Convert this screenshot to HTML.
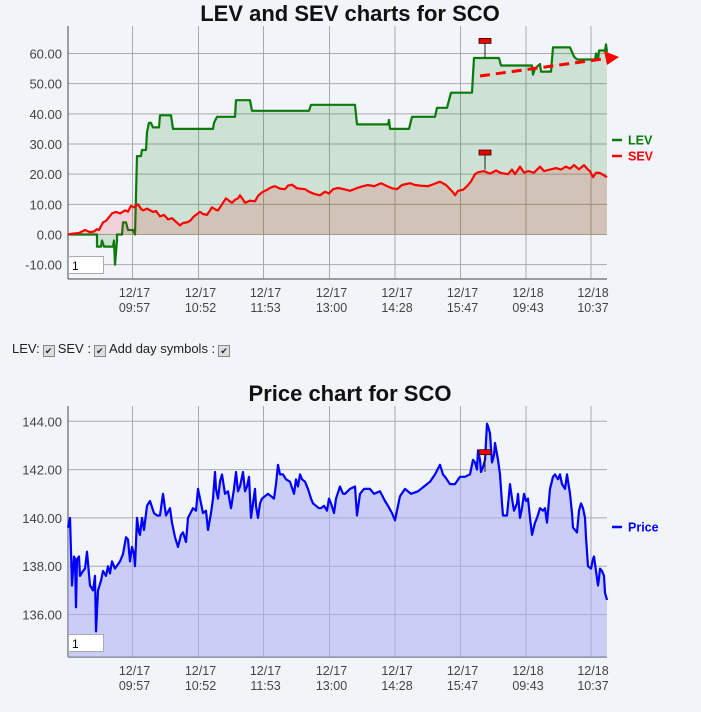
<!DOCTYPE html>
<html><head><meta charset="utf-8"><style>
body{margin:0;background:#f1f4f9;font-family:"Liberation Sans",sans-serif;}
#wrap{position:relative;width:701px;height:712px;overflow:hidden;}
svg{position:absolute;left:0;top:0;}
.ctl{position:absolute;left:12px;top:341px;font-size:13px;color:#222;}
.cb{display:inline-block;width:10px;height:10px;border:1px solid #888;background:#ddd;font-size:9px;line-height:10px;text-align:center;vertical-align:-1px;margin:0 3px;}
.inp{position:absolute;left:68px;width:36px;height:18px;background:#fff;border:1px solid #aaa;font-size:12px;line-height:18px;padding-left:3px;box-sizing:border-box;}
</style></head><body>
<div id="wrap">
<svg id="svg" width="701" height="712"></svg>
<div class="ctl">LEV:<span class="cb">✔</span>SEV :<span class="cb">✔</span>Add day symbols :<span class="cb">✔</span></div>
<div class="inp" style="top:256px">1</div>
<div class="inp" style="top:634px">1</div>
</div>
<script>
const xTickPos=[64.5,130.5,195.5,261.5,327,392.5,458,523];
const xTickDates=["12/17","12/17","12/17","12/17","12/17","12/17","12/18","12/18"];
const xTickTimes=["09:57","10:52","11:53","13:00","14:28","15:47","09:43","10:37"];
const topYTicks=[-10,0,10,20,30,40,50,60];
const botYTicks=[136,138,140,142,144];
const levPoints=[[0,0],[29,0],[29,-4],[33,-4],[34,-2],[36,-4],[45,-4],[46,-2],[47,-10],[49,-2],[49,0],[54,0],[55,4],[58,4],[60,1.5],[65,1.5],[67,0],[69,26],[73,26],[74,28],[78,28],[79,34],[81,37],[83,37],[85,35.5],[91,35.5],[92,39.5],[103,39.5],[105,35],[145,35],[146,37],[149,39],[167,39],[168,44.5],[182,44.5],[184,41],[241,41],[243,43],[287,43],[289,36.5],[320,36.5],[321,38],[322,35],[341,35],[344,39],[367,39],[369,42],[379,42],[381,44.5],[383,47],[404,47],[406,58.5],[431,58.5],[433,56],[464,56],[465,53],[467,55],[472,56.5],[473,54],[483,54],[485,62],[502,62],[506,59],[509,58],[527,58],[528,60],[530,58],[531,61],[537,61],[538,63],[539,60.5]];
const sevPoints=[[0,0],[5,0.3],[11,0.5],[14,1],[17,1.5],[22,0.8],[26,1],[29,1.8],[31,1.5],[35,4],[38,4.5],[44,7],[48,7.5],[52,7],[57,8],[60,7.6],[63,9.5],[66,9],[70,10],[73,8.5],[75,8],[79,8.6],[85,7.5],[88,7.8],[92,6],[96,6.5],[100,5],[104,5.4],[108,4.2],[112,3],[115,3.8],[119,4],[122,4.5],[126,6],[132,7.5],[135,6.8],[139,6.5],[142,8],[144,9],[148,8.2],[150,8],[154,10],[158,12],[161,11.2],[164,10.5],[167,11.5],[170,12],[172,13],[175,11.6],[177,10.5],[182,11.2],[187,11],[190,12.8],[194,14],[199,14.8],[203,15.6],[207,16],[212,15.2],[217,15],[220,16.2],[224,16.5],[229,15.3],[237,15],[241,14.2],[246,13.5],[252,13],[257,14.2],[261,13.6],[265,15],[270,15.4],[276,15],[282,14.5],[290,15.5],[295,16],[300,16.4],[306,16],[313,17],[318,16.2],[324,15.3],[329,15],[334,16.4],[342,17],[347,16.4],[352,16.2],[360,16],[365,16.6],[372,17.5],[378,16.4],[385,14],[387,13],[390,14.5],[395,14.8],[399,16],[403,17.6],[407,20],[410,20.6],[416,21],[422,20.2],[428,21.2],[433,20.4],[440,20],[444,21.5],[447,20],[452,22.5],[456,20.5],[460,21],[466,20.5],[472,22.5],[476,21],[482,21.5],[488,22],[493,21.5],[498,22.5],[502,21.8],[506,23],[511,21.6],[516,23],[520,21.5],[522,21],[525,19],[528,20.5],[532,20.4],[536,19.6],[539,19]];
const pricePoints=[[0,139.6],[2,140],[4,137.2],[6,138.4],[7,138.3],[8,136.3],[9,138.3],[11,138.4],[12,137.6],[15,137.8],[17,137.9],[19,138.6],[22,137.2],[25,137.0],[27,137.6],[28,135.3],[30,137],[33,137.4],[35,137.8],[38,137.6],[40,138],[42,137.7],[44,138.2],[47,137.9],[52,138.2],[55,138.5],[58,139.2],[60,139.1],[62,138.2],[64,138.8],[66,138.5],[67,138.0],[69,140],[71,139.4],[72,139.3],[74,140],[76,139.5],[79,140.5],[82,140.7],[86,140.2],[89,140.1],[92,140.1],[95,141],[98,140.1],[102,140.4],[104,139.8],[107,139.2],[110,138.8],[113,139.3],[115,139.4],[118,139.0],[120,140],[125,140.4],[128,140.3],[130,141.2],[133,140.6],[135,140.2],[138,140.3],[140,139.5],[143,140.2],[145,140.8],[147,141.9],[148,141.2],[150,140.8],[152,141.5],[154,141.8],[157,141],[160,141.1],[163,140.4],[166,141.2],[168,141.9],[170,141.1],[172,141.3],[174,141.7],[175,141.9],[177,141.1],[179,141.3],[181,141.7],[183,140.0],[185,140.6],[187,141.2],[188,140.5],[190,140.0],[192,140.6],[194,140.8],[197,140.9],[200,141.0],[203,140.9],[206,140.8],[208,141.4],[210,142.2],[212,141.8],[215,141.8],[218,141.6],[222,141.5],[226,141.0],[228,141.6],[230,141.3],[232,141.8],[234,141.6],[237,141.5],[240,141.2],[243,140.8],[245,140.6],[248,140.5],[251,140.4],[253,140.4],[256,140.5],[259,140.3],[261,140.8],[263,140.6],[266,140.2],[268,140.8],[272,141.3],[275,141.0],[277,141.0],[282,141.2],[287,141.3],[289,140.1],[292,141.0],[296,141.2],[302,141.2],[306,141.0],[312,141.1],[317,140.7],[320,140.5],[324,140.2],[327,139.9],[330,140.5],[332,140.9],[337,141.2],[343,141.0],[350,141.1],[356,141.3],[362,141.5],[367,141.8],[372,142.2],[375,141.8],[377,141.7],[382,141.4],[387,141.4],[392,141.7],[397,141.7],[402,141.8],[405,142.4],[407,142.3],[409,142.0],[410,142.8],[412,142.4],[413,141.9],[415,142.1],[417,142.4],[419,143.9],[420,143.8],[422,143.5],[424,142.3],[426,142.6],[427,143.1],[430,142.4],[432,141.8],[434,140.6],[435,140.1],[439,140.1],[442,141.4],[444,140.8],[446,140.3],[449,140.6],[450,141.0],[452,140.0],[454,140.4],[456,141.0],[458,140.7],[460,140.8],[462,140.0],[464,139.3],[467,139.8],[469,140.0],[472,140.4],[475,140.3],[477,140.4],[479,139.8],[482,141.2],[485,141.7],[487,141.8],[490,141.6],[492,141.8],[494,141.4],[497,141.2],[499,141.8],[502,141.0],[504,140.2],[505,139.6],[507,139.5],[509,139.4],[511,140.3],[513,140.6],[515,140.4],[517,140.0],[518,139.2],[520,138.0],[523,137.9],[525,138.3],[526,138.4],[528,137.8],[530,137.2],[531,137.5],[532,137.9],[534,137.8],[536,137.6],[537,136.9],[539,136.6]];
const levFlag=[417,64,58.5], sevFlag=[417,27,21.5], priceFlag=[417,142.7,141.9];

const NS="http://www.w3.org/2000/svg", svg=document.getElementById('svg');
function mk(tag,attrs,parent){const e=document.createElementNS(NS,tag);for(const k in attrs)e.setAttribute(k,attrs[k]);(parent||svg).appendChild(e);return e;}
const L=68,R=607,TMAX=539;
const X=t=>L+t*(R-L)/TMAX;
const yTop=v=>234.5-v*3.017;
const yBot=v=>421.3+(144-v)*24.15;

function grid(top,bottom,yTicks,yf,name){
  const g=mk('g',{});
  yTicks.forEach(v=>{mk('line',{x1:L,x2:R,y1:yf(v),y2:yf(v),stroke:'#aaa','stroke-width':1},g);
    const t=mk('text',{x:L-6,y:yf(v)+5,'text-anchor':'end','font-size':13,fill:'#444'},g);t.textContent=v.toFixed(2);
    });
  xTickPos.forEach((p,i)=>{mk('line',{x1:X(p),x2:X(p),y1:top,y2:bottom,stroke:'#aaa','stroke-width':1},g);
    const t1=mk('text',{x:X(p)+2,y:bottom+18,'text-anchor':'middle','font-size':12.5,fill:'#444'},g);t1.textContent=xTickDates[i];
    const t2=mk('text',{x:X(p)+2,y:bottom+33,'text-anchor':'middle','font-size':12.5,fill:'#444'},g);t2.textContent=xTickTimes[i];
    
    });
  mk('line',{x1:L,x2:L,y1:top,y2:bottom,stroke:'#666','stroke-width':1.2},g);
  mk('line',{x1:L,x2:R,y1:bottom,y2:bottom,stroke:'#666','stroke-width':1.2},g);
}
function pts(P,yf){return P.map(p=>X(p[0]).toFixed(1)+','+yf(p[1]).toFixed(1)).join(' ');}
function series(P,yf,base,fill,stroke,name){
  const a=mk('polygon',{points:X(P[0][0])+','+base+' '+pts(P,yf)+' '+X(P[P.length-1][0])+','+base,fill:fill});
  
  const l=mk('polyline',{points:pts(P,yf),fill:'none',stroke:stroke,'stroke-width':2.2,'stroke-linejoin':'round'});
  
}
function flag(f,yf,name){const g=mk('g',{});
  mk('line',{x1:X(f[0]),x2:X(f[0]),y1:yf(f[1]),y2:yf(f[2]),stroke:'#222','stroke-width':1},g);
  mk('rect',{x:X(f[0])-6,y:yf(f[1])-3,width:12,height:5,fill:'#e00',stroke:'#300','stroke-width':0.8},g);}
function title(txt,y,name){const t=mk('text',{x:350,y:y,'text-anchor':'middle','font-size':22,'font-weight':'bold',fill:'#111'});t.textContent=txt;}
function legend(y,txt,color,name){const g=mk('g',{});
  mk('line',{x1:612,x2:622,y1:y,y2:y,stroke:color,'stroke-width':2.5},g);
  const t=mk('text',{x:628,y:y+4.5,'font-size':12.5,'font-weight':'bold',fill:color},g);t.textContent=txt;}

title('LEV and SEV charts for SCO',21,'top-chart-title');
grid(26,279,topYTicks,yTop,'top');
series(levPoints,yTop,yTop(0),'rgba(0,128,0,0.15)','#0a7a0a','lev');
series(sevPoints,yTop,yTop(0),'rgba(230,40,40,0.16)','#ff0000','sev');
flag(levFlag,yTop,'lev-day-flag');flag(sevFlag,yTop,'sev-day-flag');
const arr=mk('g',{});
mk('line',{x1:480,y1:76,x2:610,y2:58,stroke:'#f00','stroke-width':3,'stroke-dasharray':'10,6'},arr);
mk('polygon',{points:'619,57 604,51 607,65',fill:'#f00'},arr);
legend(140,'LEV','#0a7a0a','lev-legend');legend(156,'SEV','#ff0000','sev-legend');

title('Price chart for SCO',401,'price-chart-title');
grid(406,657,botYTicks,yBot,'bottom');
series(pricePoints,yBot,657,'rgba(170,175,245,0.55)','#0000ff','price');
flag(priceFlag,yBot,'price-day-flag');
legend(527,'Price','#0000ff','price-legend');
</script>
</body></html>
